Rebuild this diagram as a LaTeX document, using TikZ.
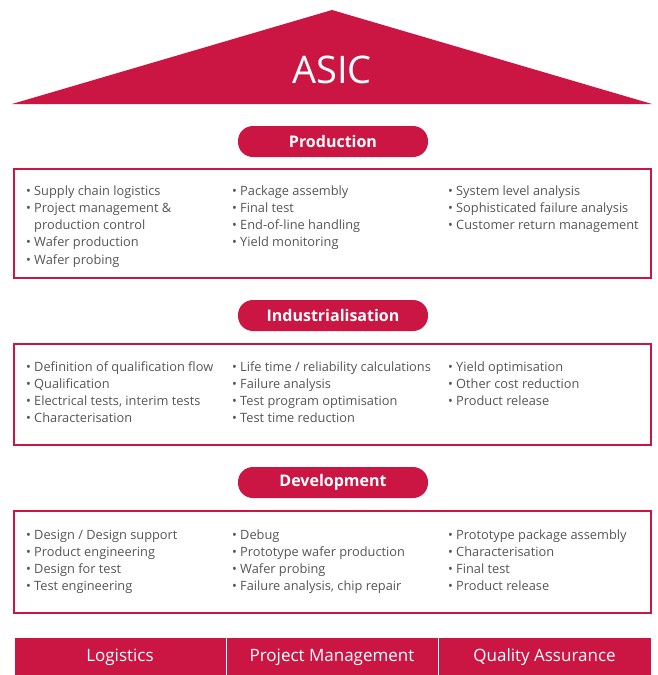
\documentclass[tikz,border=0pt]{standalone}
\usepackage{fontspec}
\setmainfont{Open Sans}
\definecolor{crim}{HTML}{CB1644}
\definecolor{txt}{HTML}{555555}
\tikzset{
  pill/.style={fill=crim, rounded corners=15pt, minimum width=190pt, minimum height=31pt, text=white, font=\fontsize{16}{18}\selectfont\bfseries, inner sep=0pt},
  panel/.style={draw=crim, line width=1.8pt},
  item/.style={anchor=base west, text=txt, font=\fontsize{12.8}{14}\selectfont, inner sep=0pt},
  barcell/.style={fill=crim, draw=white, line width=1pt, minimum height=40pt, text=white, font=\fontsize{17}{20}\selectfont, inner sep=0pt}
}
\newcommand{\bl}{\textbullet\hspace{0.25em}}
\begin{document}
\begin{tikzpicture}[x=1pt,y=-1pt]
\useasboundingbox (0,0) rectangle (657,675);
% roof
\coordinate (rl) at (12,104);
\coordinate (rt) at (332,10);
\coordinate (rr) at (652,104);
\fill[crim] (rl) -- (rt) -- (rr) -- cycle;
\node[text=white, font=\fontsize{38}{40}\selectfont, inner sep=0pt] (asic) at (332,70) {ASIC};

% Production
\node[pill] (p1) at (333,141.5) {Production};
\draw[panel] (14,169) rectangle (651,278);
\node[item] (a1) at (26,195) {\bl Supply chain logistics};
\node[item] (a2) at (26,212) {\bl Project management \&};
\node[item] (a3) at (26,229) {\phantom{\bl}production control};
\node[item] (a4) at (26,246.5) {\bl Wafer production};
\node[item] (a5) at (26,264) {\bl Wafer probing};
\node[item] (b1) at (232,195) {\bl Package assembly};
\node[item] (b2) at (232,212) {\bl Final test};
\node[item] (b3) at (232,229) {\bl End-of-line handling};
\node[item] (b4) at (232,246.5) {\bl Yield monitoring};
\node[item] (c1) at (448,195) {\bl System level analysis};
\node[item] (c2) at (448,212) {\bl Sophisticated failure analysis};
\node[item] (c3) at (448,229) {\bl Customer return management};

% Industrialisation
\node[pill] (p2) at (333,315.5) {Industrialisation};
\draw[panel] (14,344) rectangle (651,445);
\node[item] (d1) at (26,371) {\bl Definition of qualification flow};
\node[item] (d2) at (26,388) {\bl Qualification};
\node[item] (d3) at (26,405) {\bl Electrical tests, interim tests};
\node[item] (d4) at (26,422.5) {\bl Characterisation};
\node[item] (e1) at (232,371) {\bl Life time / reliability calculations};
\node[item] (e2) at (232,388) {\bl Failure analysis};
\node[item] (e3) at (232,405) {\bl Test program optimisation};
\node[item] (e4) at (232,422.5) {\bl Test time reduction};
\node[item] (f1) at (448,371) {\bl Yield optimisation};
\node[item] (f2) at (448,388) {\bl Other cost reduction};
\node[item] (f3) at (448,405) {\bl Product release};

% Development
\node[pill] (p3) at (333,482.5) {Development};
\draw[panel] (14,511) rectangle (651,613);
\node[item] (g1) at (26,539) {\bl Design / Design support};
\node[item] (g2) at (26,556) {\bl Product engineering};
\node[item] (g3) at (26,573) {\bl Design for test};
\node[item] (g4) at (26,590.5) {\bl Test engineering};
\node[item] (h1) at (232,539) {\bl Debug};
\node[item] (h2) at (232,556) {\bl Prototype wafer production};
\node[item] (h3) at (232,573) {\bl Wafer probing};
\node[item] (h4) at (232,590.5) {\bl Failure analysis, chip repair};
\node[item] (i1) at (448,539) {\bl Prototype package assembly};
\node[item] (i2) at (448,556) {\bl Characterisation};
\node[item] (i3) at (448,573) {\bl Final test};
\node[item] (i4) at (448,590.5) {\bl Product release};

% bottom bar
\node[barcell, minimum width=212pt] (lg) at (120,657) {Logistics};
\node[barcell, minimum width=212pt] (pm) at (332,657) {Project Management};
\node[barcell, minimum width=213pt] (qa) at (544.5,657) {Quality Assurance};
\end{tikzpicture}
\end{document}
